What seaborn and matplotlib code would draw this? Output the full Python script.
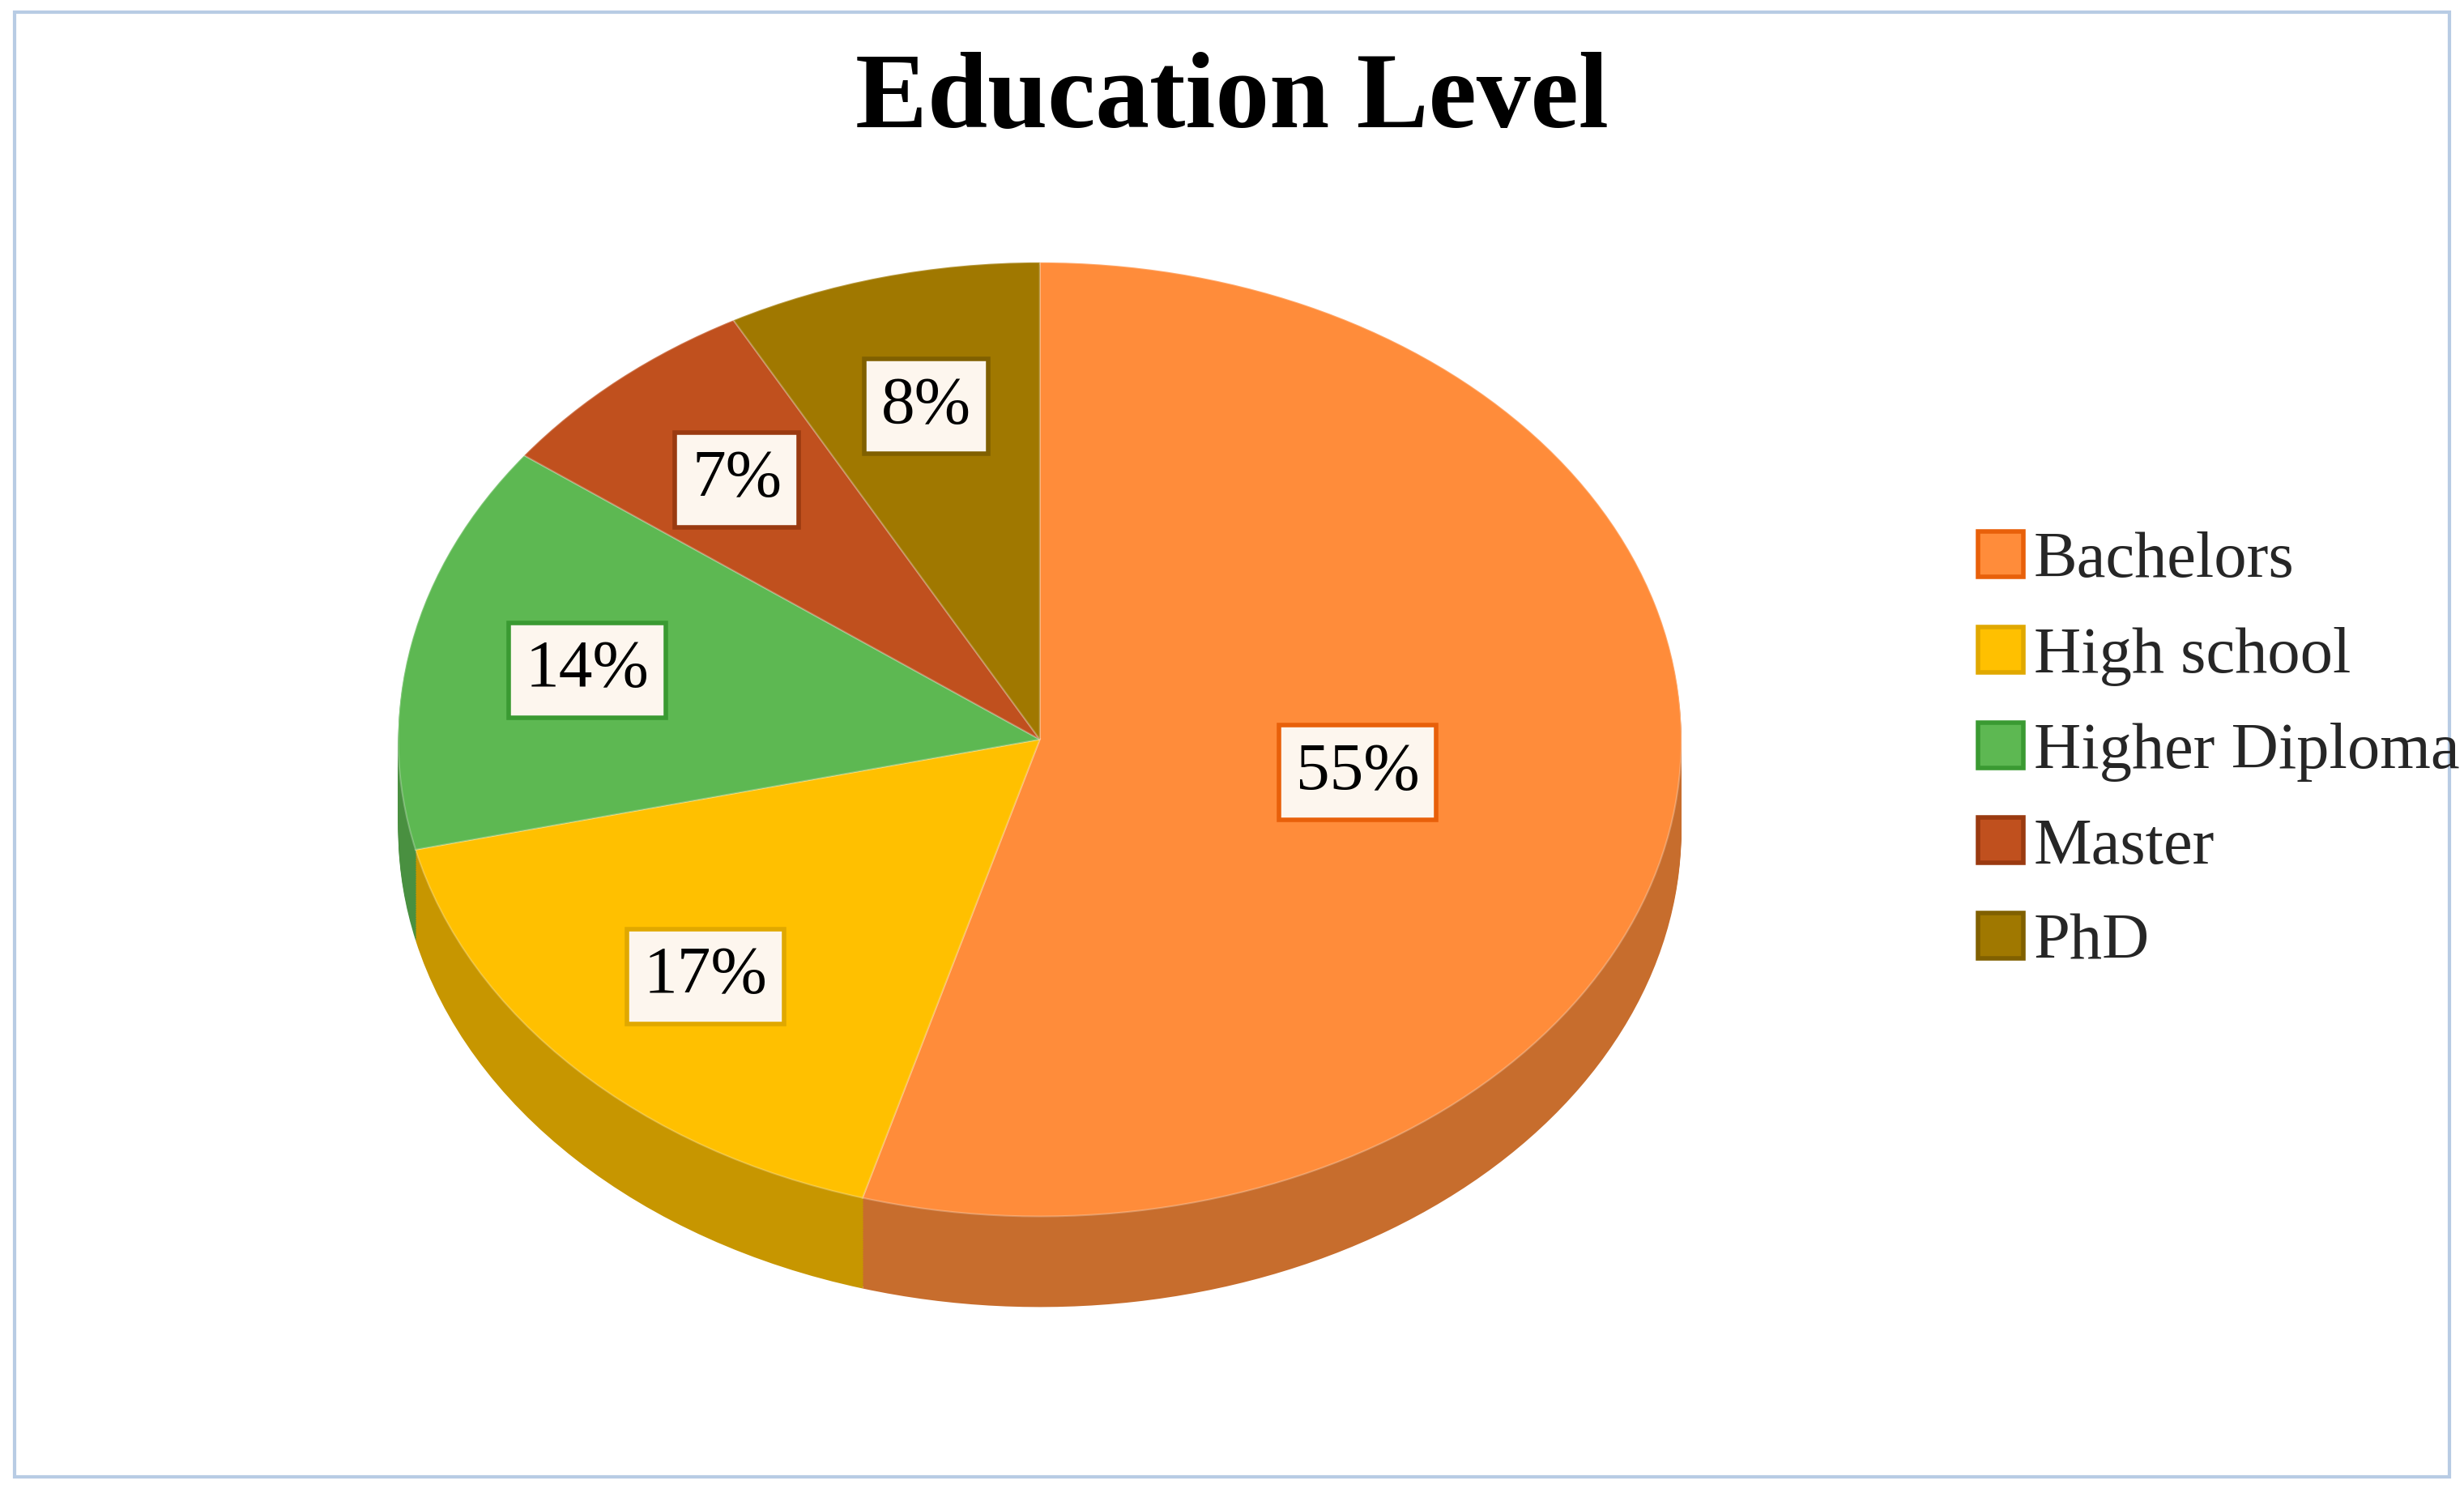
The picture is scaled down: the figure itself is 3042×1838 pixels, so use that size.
import numpy as np
import matplotlib.pyplot as plt
import matplotlib.colors as mcolors
from matplotlib.patches import Rectangle
from matplotlib.lines import Line2D
import seaborn as sns

sns.set_style("white")
plt.rcParams['font.family'] = ['Liberation Serif', 'DejaVu Serif']

labels = ["Bachelors", "High school", "Higher Diploma", "Master", "PhD"]
values = [55, 17, 14, 7, 8]
colors = ["#FF8C3A", "#FFC000", "#5DB852", "#C0501E", "#A07800"]
edge_colors = ["#E8600A", "#E0A800", "#3A9A32", "#9A3A10", "#806000"]

fig = plt.figure(figsize=(30.42, 18.38), dpi=100)
fig.patch.set_facecolor("white")
fig.add_artist(Rectangle((0.006, 0.008), 0.988, 0.984, transform=fig.transFigure,
                         fill=False, edgecolor="#B8CCE4", linewidth=3))

ax = fig.add_axes([0.159, 0.119, 0.526, 0.708])
depth = 0.19
n_layers = 40
dark = [mcolors.to_hex(np.array(mcolors.to_rgb(c)) * 0.78) for c in colors]
for k in np.linspace(depth, 0.005, n_layers):
    ax.pie(values, colors=dark, startangle=90, counterclock=False,
           center=(0, -k), radius=1, frame=True,
           wedgeprops=dict(linewidth=0))

wedges, texts = ax.pie(
    values, colors=colors, startangle=90, counterclock=False,
    center=(0, 0), radius=1, frame=True,
    wedgeprops=dict(linewidth=1.5, edgecolor="#ffffff40"))
for w, v, ec in zip(wedges, values, edge_colors):
    ang = np.deg2rad((w.theta1 + w.theta2) / 2)
    d = 0.5 if v > 40 else 0.72
    ax.text(d * np.cos(ang), d * np.sin(ang), f"{v}%", ha="center", va="center",
            fontsize=60, color="black",
            bbox=dict(boxstyle="square,pad=0.25", facecolor="#FDF6EE",
                      edgecolor=ec, linewidth=4))
ax.set_xlim(-1.01, 1.01)
ax.set_ylim(-1 - depth - 0.01, 1.01)
ax.set_aspect("auto")
ax.axis("off")

fig.suptitle("Education Level", x=0.5, y=0.965, fontsize=96, fontweight="bold",
             color="black")

handles = [Line2D([0], [0], marker="s", linestyle="none", markersize=40,
                  markerfacecolor=c, markeredgecolor=e, markeredgewidth=4)
           for c, e in zip(colors, edge_colors)]
fig.legend(handles, labels, loc="center left", bbox_to_anchor=(0.775, 0.495),
           frameon=False, fontsize=58, handletextpad=0.0, labelspacing=0.55,
           handlelength=1.0)

fig.savefig("out.png", dpi=100)
